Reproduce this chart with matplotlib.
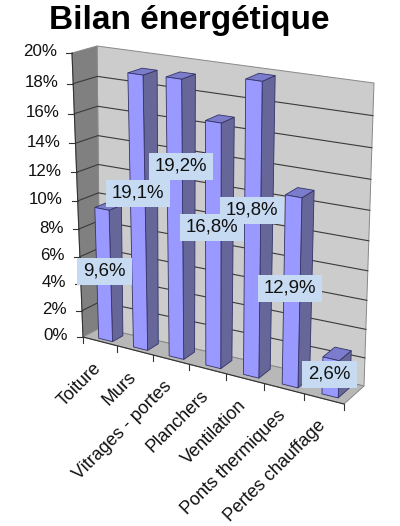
import matplotlib
matplotlib.use("Agg")
import matplotlib.pyplot as plt
from matplotlib.patches import Polygon, Rectangle

plt.rcParams["font.family"] = ["Liberation Sans", "DejaVu Sans"]

categories = ["Toiture", "Murs", "Vitrages - portes", "Planchers", "Ventilation",
              "Ponts thermiques", "Pertes chauffage"]
values = [9.6, 19.1, 19.2, 16.8, 19.8, 12.9, 2.6]
y_ticks = [0, 2, 4, 6, 8, 10, 12, 14, 16, 18, 20]

# corners of the 3d box in image pixels: (x along, depth, height)
corners = {
    (0, 0, 0): (83, 337), (1, 0, 0): (344, 404),
    (0, 1, 0): (100, 328), (1, 1, 0): (364, 386),
    (0, 0, 1): (72, 53), (1, 0, 1): (354, 94),
    (0, 1, 1): (97, 46), (1, 1, 1): (374, 83),
}
# where the boxes with the values sit
label_centers = [(104, 271), (138, 193), (181, 166), (212, 227), (252, 210), (290, 288), (329, 374)]


def persp(t, k):
    return t * (1 + k) / (1 + k * t)


def project(u, d, v):
    # u in categories, d depth 0-1, v in percent
    a = persp(u / len(categories), -0.09)
    c = persp(v / 20, -0.08)
    px, py = 0, 0
    for (i, j, l), (x, y) in corners.items():
        w = (a if i else 1 - a) * (d if j else 1 - d) * (c if l else 1 - c)
        px += w * x
        py += w * y
    return px, py


def face(ax, points, color, edge="none", lw=0.0, z=1):
    ax.add_patch(Polygon(points, closed=True, facecolor=color, edgecolor=edge, linewidth=lw, zorder=z))


fig = plt.figure(figsize=(4, 5.26), dpi=100)
ax = fig.add_axes([0, 0, 1, 1])
ax.set_xlim(0, 400)
ax.set_ylim(526, 0)
ax.axis("off")

n = len(categories)
edge_gray = "#888888"

# walls and floor
face(ax, [project(0, 1, 0), project(n, 1, 0), project(n, 1, 20), project(0, 1, 20)], "#CCCCCC", edge_gray, 0.7)
face(ax, [project(0, 0, 0), project(0, 1, 0), project(0, 1, 20), project(0, 0, 20)], "#808080", edge_gray, 0.7)
face(ax, [project(0, 0, 0), project(n, 0, 0), project(n, 1, 0), project(0, 1, 0)], "#B8B8B8", edge_gray, 0.7)

# gridlines
for t in y_ticks[1:-1]:
    pts = [project(0, 0, t), project(0, 1, t), project(n, 1, t)]
    ax.plot([p[0] for p in pts], [p[1] for p in pts], color="#3a3a3a", lw=0.8, zorder=2)

# axis lines and ticks
pts = [project(0, 0, 20), project(0, 0, 0), project(n, 0, 0)]
ax.plot([p[0] for p in pts], [p[1] for p in pts], color="#333333", lw=0.8, zorder=2)
for t in y_ticks:
    x, y = project(0, 0, t)
    ax.plot([x - 6, x], [y, y], color="#333333", lw=0.8, zorder=2)
    ax.text(x - 15, y - 1, f"{t}%", ha="right", va="center", fontsize=12.2, color="#111111", zorder=6)
for i in range(n + 1):
    x, y = project(i, 0, 0)
    ax.plot([x, x], [y, y + 6], color="#333333", lw=0.8, zorder=2)

# bars
bar_a, bar_b = 0.36, 0.76
for i, v in enumerate(values):
    u0, u1 = i + bar_a, i + bar_b
    d0, d1 = 0.2, 0.8
    face(ax, [project(u1, d0, 0), project(u1, d1, 0), project(u1, d1, v), project(u1, d0, v)],
         "#666699", "#333366", 0.6, 3)
    face(ax, [project(u0, d0, v), project(u1, d0, v), project(u1, d1, v), project(u0, d1, v)],
         "#7C7CCC", "#333366", 0.6, 3)
    face(ax, [project(u0, d0, 0), project(u1, d0, 0), project(u1, d0, v), project(u0, d0, v)],
         "#9999FF", "#333366", 0.6, 3)

# value boxes
for v, (cx, cy) in zip(values, label_centers):
    txt = f"{v:.1f}%".replace(".", ",")
    w = 64 if v >= 10 else 55
    ax.add_patch(Rectangle((cx - w / 2, cy - 13.5), w, 27, facecolor="#C6DBF2", edgecolor="none", zorder=5))
    ax.text(cx, cy, txt, ha="center", va="center", fontsize=13.4, color="#111111", zorder=6)

# category labels
for i, name in enumerate(categories):
    x, y = project(i + 0.5, 0, 0)
    ax.text(x - 1, y + 24, name, rotation=45, rotation_mode="anchor", ha="right", va="center",
            fontsize=13, color="#111111", zorder=6)

ax.text(189, 29, "Bilan énergétique", ha="center", va="baseline", fontsize=24, fontweight="bold", color="black")

fig.savefig("out.png", dpi=100)
